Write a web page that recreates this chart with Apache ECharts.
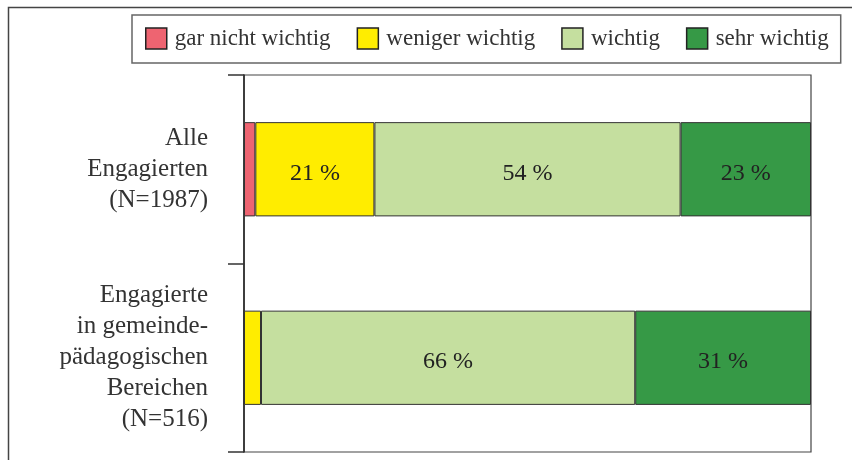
<!DOCTYPE html>
<html>
<head>
<meta charset="utf-8">
<script src="https://cdn.jsdelivr.net/npm/echarts@6/dist/echarts.min.js"></script>
<style>
  html, body { margin: 0; padding: 0; background: #fff; }
  #chart { width: 852px; height: 460px; }
</style>
</head>
<body>
<div id="chart"></div>
<script>
const categories = ['Alle\nEngagierten\n(N=1987)', 'Engagierte\nin gemeinde-\npädagogischen\nBereichen\n(N=516)']
const seriesNames = ['gar nicht wichtig', 'weniger wichtig', 'wichtig', 'sehr wichtig']
const garNichtWichtig = [2, 0]
const wenigerWichtig = [21, 3]
const wichtig = [54, 66]
const sehrWichtig = [23, 31]

const colors = ['#EE6471', '#FFED00', '#C5DF9F', '#369946']
const font = 'Liberation Serif'

const chart = echarts.init(document.getElementById('chart'))

function makeSeries(name, data, color) {
  return {
    name,
    type: 'bar',
    stack: 'total',
    barWidth: '50%',
    data,
    itemStyle: {
      color,
      borderColor: '#333',
      borderWidth: 1
    },
    label: {
      show: true,
      position: 'inside',
      offset: [0, 4],
      color: '#222',
      fontFamily: font,
      fontSize: 24,
      formatter: p => (p.value >= 10 ? p.value + ' %' : '')
    }
  }
}

chart.setOption({
  backgroundColor: '#fff',
  animation: false,
  graphic: [{
    type: 'rect',
    left: 6,
    top: 5,
    silent: true,
    shape: { width: 900, height: 500 },
    style: { fill: 'none', stroke: '#444', lineWidth: 1.5 }
  }],
  legend: {
    left: 132,
    top: 15,
    data: seriesNames,
    padding: [12, 12, 13, 13],
    itemGap: 26,
    itemWidth: 21,
    itemHeight: 21,
    borderColor: '#666',
    borderWidth: 1.5,
    icon: 'rect',
    itemStyle: { borderColor: '#222', borderWidth: 1.5 },
    textStyle: { fontFamily: font, fontSize: 23, color: '#333', padding: [0, 0, 0, 3] }
  },
  grid: {
    left: 244,
    right: 41,
    top: 75,
    bottom: 8,
    show: true,
    borderColor: '#444',
    borderWidth: 1.2
  },
  xAxis: {
    type: 'value',
    min: 0,
    max: 100,
    show: false
  },
  yAxis: {
    type: 'category',
    data: categories,
    inverse: true,
    axisLine: { show: true, lineStyle: { color: '#222', width: 1.5 } },
    axisTick: { show: true, inside: false, length: 16, lineStyle: { color: '#333', width: 1.5 } },
    axisLabel: {
      margin: 36,
      fontFamily: font,
      fontSize: 25,
      lineHeight: 31,
      color: '#333',
      align: 'right'
    }
  },
  series: [
    makeSeries(seriesNames[0], garNichtWichtig, colors[0]),
    makeSeries(seriesNames[1], wenigerWichtig, colors[1]),
    makeSeries(seriesNames[2], wichtig, colors[2]),
    makeSeries(seriesNames[3], sehrWichtig, colors[3])
  ]
})
</script>
</body>
</html>
